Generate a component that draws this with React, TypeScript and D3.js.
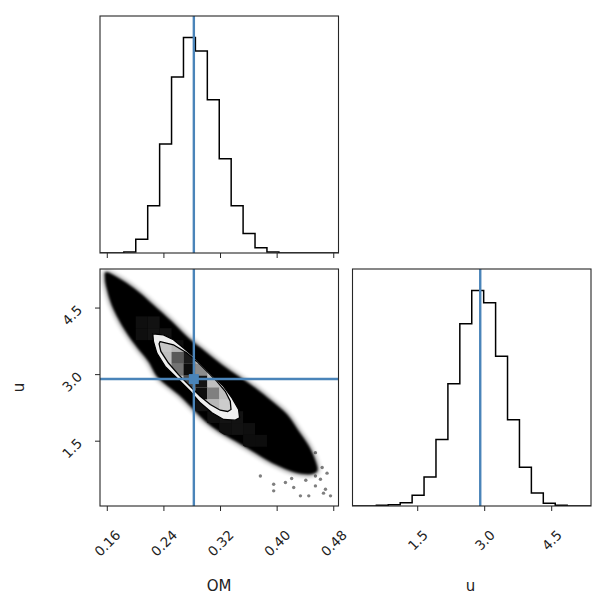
import React from "react";
import * as d3 from "d3";

// ---------- data ----------
const omRange: [number, number] = [0.1497, 0.4867];
const uRange: [number, number] = [0.04, 5.38];
const omTicks = [0.16, 0.24, 0.32, 0.4, 0.48];
const omTickLabels = ["0.16", "0.24", "0.32", "0.40", "0.48"];
const uTicks = [1.5, 3.0, 4.5];
const uTickLabels = ["1.5", "3.0", "4.5"];
const omTruth = 0.2823;
const uTruth = 2.9;
const nBins = 20;

// 1D histograms (20 bins across the axis range)
const omCounts = [0, 0, 3, 41, 141, 325, 525, 643, 603, 457, 281, 141, 58, 16, 3, 0, 0, 0, 0, 0];
const uCounts = [0, 0, 2, 4, 10, 32, 87, 200, 367, 547, 647, 610, 450, 259, 116, 39, 8, 2, 0, 0];

// outer envelope of the sample cloud (OM, u)
const cloudOM = [0.1592, 0.1804, 0.2039, 0.2252, 0.2512, 0.2747, 0.2984, 0.322, 0.3455, 0.3692, 0.3928, 0.4141, 0.4305, 0.4447, 0.4541, 0.4565,
  0.4447, 0.4258, 0.407, 0.388, 0.3645, 0.3409, 0.3172, 0.2984, 0.2795, 0.2606, 0.2323, 0.2181, 0.1993, 0.1804, 0.1663, 0.1592, 0.1568];
const cloudU = [5.304, 5.131, 4.868, 4.57, 4.195, 3.823, 3.522, 3.224, 2.961, 2.701, 2.4, 2.102, 1.727, 1.391, 1.054, 0.83,
  0.756, 0.794, 0.906, 1.054, 1.278, 1.503, 1.727, 1.951, 2.252, 2.551, 2.925, 3.298, 3.672, 4.121, 4.57, 4.945, 5.169];

// outer contour
const outerOM = [0.2243, 0.2393, 0.2535, 0.2677, 0.2818, 0.296, 0.3101, 0.3243, 0.3362, 0.3455, 0.3469, 0.3409, 0.3243, 0.3079, 0.2913, 0.2771, 0.2583, 0.2417, 0.23, 0.2252];
const outerU = [3.919, 3.897, 3.785, 3.598, 3.41, 3.185, 2.961, 2.737, 2.476, 2.214, 2.028, 1.974, 1.99, 2.14, 2.364, 2.625, 2.925, 3.185, 3.486, 3.746];

// inner contour
const innerOM = [0.2347, 0.2535, 0.2725, 0.2866, 0.3008, 0.3149, 0.3267, 0.3338, 0.3348, 0.33, 0.3196, 0.3055, 0.2913, 0.2771, 0.2606, 0.2464, 0.2357, 0.2332];
const innerU = [3.746, 3.672, 3.486, 3.298, 3.073, 2.849, 2.625, 2.4, 2.214, 2.169, 2.198, 2.326, 2.512, 2.737, 3.0, 3.262, 3.522, 3.695];

// sparse outlying samples
const outlierOM = [0.3951, 0.3951, 0.4234, 0.4329, 0.4447, 0.4541, 0.4612, 0.4683, 0.4754, 0.4541, 0.4636, 0.4541, 0.3763, 0.4117, 0.4655, 0.4405, 0.4705, 0.4205];
const outlierU = [0.531, 0.381, 0.457, 0.269, 0.269, 0.493, 0.643, 0.419, 0.269, 0.717, 0.906, 1.242, 0.717, 0.569, 0.33, 0.62, 0.78, 0.66];

// 2D histogram cells (bin i of OM, bin j of u, grey level 0..1)
const bgCellI = [3, 4, 3, 4, 5, 5, 6, 9, 10, 10, 11, 9, 11, 12, 12, 13, 10, 8, 8];
const bgCellJ = [15, 15, 14, 14, 14, 13, 13, 8, 8, 7, 7, 7, 6, 6, 5, 5, 6, 8, 9];
const bgCellG = [0.06, 0.07, 0.06, 0.08, 0.07, 0.07, 0.06, 0.08, 0.07, 0.08, 0.07, 0.06, 0.07, 0.06, 0.05, 0.05, 0.06, 0.07, 0.08];

const coreCellI = [5, 6, 7, 5, 6, 7, 8, 6, 7, 8, 7, 8, 9, 8, 9, 10, 9, 10, 11];
const coreCellJ = [13, 13, 13, 12, 12, 12, 12, 11, 11, 11, 10, 10, 10, 9, 9, 9, 8, 8, 8];
const coreCellG = [0.78, 0.72, 0.8, 0.75, 0.35, 0.1, 0.7, 0.45, 0.05, 0.55, 0.3, 0.08, 0.75, 0.05, 0.5, 0.75, 0.72, 0.8, 0.82];

// ---------- layout ----------
const S = 238.5;
const H = 237;
const colX = [100, 352.5];
const rowY = [16, 269];
const BLUE = "#4a84b9";
const FONT = "DejaVu Sans, sans-serif";

const xOM = d3.scaleLinear().domain(omRange).range([colX[0], colX[0] + S]);
const xU = d3.scaleLinear().domain(uRange).range([colX[1], colX[1] + S]);
const yU = d3.scaleLinear().domain(uRange).range([rowY[1] + H, rowY[1]]);

function stepPath(counts: number[], xs: d3.ScaleLinear<number, number>, range: [number, number], y0: number) {
  const max = d3.max(counts) as number;
  const ys = d3.scaleLinear().domain([0, max * 1.1]).range([y0 + H, y0]);
  const w = (range[1] - range[0]) / counts.length;
  const pts: [number, number][] = [[xs(range[0]), ys(0)]];
  counts.forEach((c, k) => {
    pts.push([xs(range[0] + k * w), ys(c)]);
    pts.push([xs(range[0] + (k + 1) * w), ys(c)]);
  });
  pts.push([xs(range[1]), ys(0)]);
  return d3.line()(pts) as string;
}

function poly(oms: number[], us: number[], curve: d3.CurveFactory = d3.curveLinearClosed) {
  const pts = oms.map((o, k) => [xOM(o), yU(us[k])] as [number, number]);
  return d3.line().curve(curve)(pts) as string;
}

function cellRect(i: number, j: number) {
  const wo = (omRange[1] - omRange[0]) / nBins;
  const wu = (uRange[1] - uRange[0]) / nBins;
  const x1 = xOM(omRange[0] + i * wo);
  const x2 = xOM(omRange[0] + (i + 1) * wo);
  const y1 = yU(uRange[0] + (j + 1) * wu);
  const y2 = yU(uRange[0] + j * wu);
  return { x: x1, y: y1, width: x2 - x1, height: y2 - y1 };
}

function grey(g: number) {
  const v = Math.round(g * 255);
  return `rgb(${v},${v},${v})`;
}

const textW = (s: string, fs: number) =>
  s.split("").reduce((a, c) => a + (c === "." ? 0.318 : 0.636), 0) * fs;

function XTickLabels({ ticks, labels, scale }: { ticks: number[]; labels: string[]; scale: d3.ScaleLinear<number, number> }) {
  const fs = 13.5;
  return (
    <g>
      {ticks.map((t, k) => {
        const bb = (textW(labels[k], fs) + fs * 0.73) * 0.7071;
        const cx = scale(t);
        const cy = 529 + bb / 2;
        return (
          <text key={k} x={cx} y={cy} transform={`rotate(-45 ${cx} ${cy})`} textAnchor="middle" dominantBaseline="central"
            fontFamily={FONT} fontSize={fs} fill="#222">{labels[k]}</text>
        );
      })}
    </g>
  );
}

function Frame({ x, y }: { x: number; y: number }) {
  return <rect x={x} y={y} width={S} height={H} fill="none" stroke="#262626" strokeWidth={1.1} />;
}

export default function App() {
  const bottom1 = rowY[1] + H;
  const bottom0 = rowY[0] + H;
  const cloudPath = poly(cloudOM, cloudU, d3.curveCardinalClosed);
  return (
    <svg width={606} height={606} style={{ position: "absolute", left: 0, top: 0, background: "#fff" }}>
      <defs>
        <clipPath id="p00"><rect x={colX[0]} y={rowY[0]} width={S} height={H} /></clipPath>
        <clipPath id="p10"><rect x={colX[0]} y={rowY[1]} width={S} height={H} /></clipPath>
        <clipPath id="p11"><rect x={colX[1]} y={rowY[1]} width={S} height={H} /></clipPath>
        <clipPath id="cloudClip"><path d={cloudPath} /></clipPath>
        <clipPath id="innerClip"><path d={poly(innerOM, innerU)} /></clipPath>
        <filter id="blur1" x="-10%" y="-10%" width="120%" height="120%"><feGaussianBlur stdDeviation={0.9} /></filter>
        <filter id="blur2" x="-10%" y="-10%" width="120%" height="120%"><feGaussianBlur stdDeviation={2} /></filter>
      </defs>

      {/* top-left: OM histogram */}
      <g clipPath="url(#p00)">
        <path d={stepPath(omCounts, xOM, omRange, rowY[0])} fill="none" stroke="#000" strokeWidth={1.5} />
        <line x1={xOM(omTruth)} x2={xOM(omTruth)} y1={rowY[0]} y2={bottom0} stroke={BLUE} strokeWidth={2.4} />
      </g>
      <Frame x={colX[0]} y={rowY[0]} />
      {omTicks.map((t, k) => (
        <line key={k} x1={xOM(t)} x2={xOM(t)} y1={bottom0} y2={bottom0 + 5} stroke="#262626" strokeWidth={1} />
      ))}

      {/* bottom-left: 2D OM vs u */}
      <g clipPath="url(#p10)">
        <path d={cloudPath} fill="#000" stroke="#000" strokeWidth={4} opacity={0.4} filter="url(#blur2)" />
        <path d={cloudPath} fill="#000" filter="url(#blur1)" />
        {outlierOM.map((o, k) => (
          <circle key={k} cx={xOM(o)} cy={yU(outlierU[k])} r={1.7} fill="#000" opacity={0.5} />
        ))}
        <g clipPath="url(#cloudClip)">
          {bgCellI.map((i, k) => {
            const r = cellRect(i, bgCellJ[k]);
            return <rect key={k} {...r} fill={grey(bgCellG[k])} />;
          })}
        </g>
        <path d={poly(outerOM, outerU)} fill="#efefef" stroke="#000" strokeWidth={1.3} />
        <path d={poly(innerOM, innerU)} fill="#c4c4c4" stroke="none" />
        <g clipPath="url(#innerClip)">
          {coreCellI.map((i, k) => {
            const r = cellRect(i, coreCellJ[k]);
            return <rect key={k} {...r} fill={grey(coreCellG[k])} />;
          })}
        </g>
        <path d={poly(innerOM, innerU)} fill="none" stroke="#000" strokeWidth={1.3} />
        <line x1={xOM(omTruth)} x2={xOM(omTruth)} y1={rowY[1]} y2={bottom1} stroke={BLUE} strokeWidth={2.4} />
        <line x1={colX[0]} x2={colX[0] + S} y1={yU(uTruth)} y2={yU(uTruth)} stroke={BLUE} strokeWidth={2.4} />
        <rect x={xOM(omTruth) - 5} y={yU(uTruth) - 5} width={10} height={10} fill={BLUE} />
      </g>
      <Frame x={colX[0]} y={rowY[1]} />
      {omTicks.map((t, k) => (
        <line key={k} x1={xOM(t)} x2={xOM(t)} y1={bottom1} y2={bottom1 + 5} stroke="#262626" strokeWidth={1} />
      ))}
      {uTicks.map((t, k) => (
        <line key={k} x1={colX[0] - 5} x2={colX[0]} y1={yU(t)} y2={yU(t)} stroke="#262626" strokeWidth={1} />
      ))}
      <XTickLabels ticks={omTicks} labels={omTickLabels} scale={xOM} />
      {uTicks.map((t, k) => {
        const cx = 72;
        const cy = yU(t) + 7;
        return (
          <text key={k} x={cx} y={cy} transform={`rotate(-45 ${cx} ${cy})`} textAnchor="middle" dominantBaseline="central"
            fontFamily={FONT} fontSize={13.5} fill="#222">{uTickLabels[k]}</text>
        );
      })}

      {/* bottom-right: u histogram */}
      <g clipPath="url(#p11)">
        <path d={stepPath(uCounts, xU, uRange, rowY[1])} fill="none" stroke="#000" strokeWidth={1.5} />
        <line x1={xU(uTruth)} x2={xU(uTruth)} y1={rowY[1]} y2={bottom1} stroke={BLUE} strokeWidth={2.4} />
      </g>
      <Frame x={colX[1]} y={rowY[1]} />
      {uTicks.map((t, k) => (
        <line key={k} x1={xU(t)} x2={xU(t)} y1={bottom1} y2={bottom1 + 5} stroke="#262626" strokeWidth={1} />
      ))}
      <XTickLabels ticks={uTicks} labels={uTickLabels} scale={xU} />

      {/* axis labels */}
      <text x={219} y={591} textAnchor="middle" fontFamily={FONT} fontSize={15} fill="#222">OM</text>
      <text x={470.5} y={591} textAnchor="middle" fontFamily={FONT} fontSize={15} fill="#222">u</text>
      <text x={0} y={0} transform={`translate(24 ${rowY[1] + H / 2}) rotate(-90)`} textAnchor="middle" fontFamily={FONT} fontSize={15} fill="#222">u</text>
    </svg>
  );
}
